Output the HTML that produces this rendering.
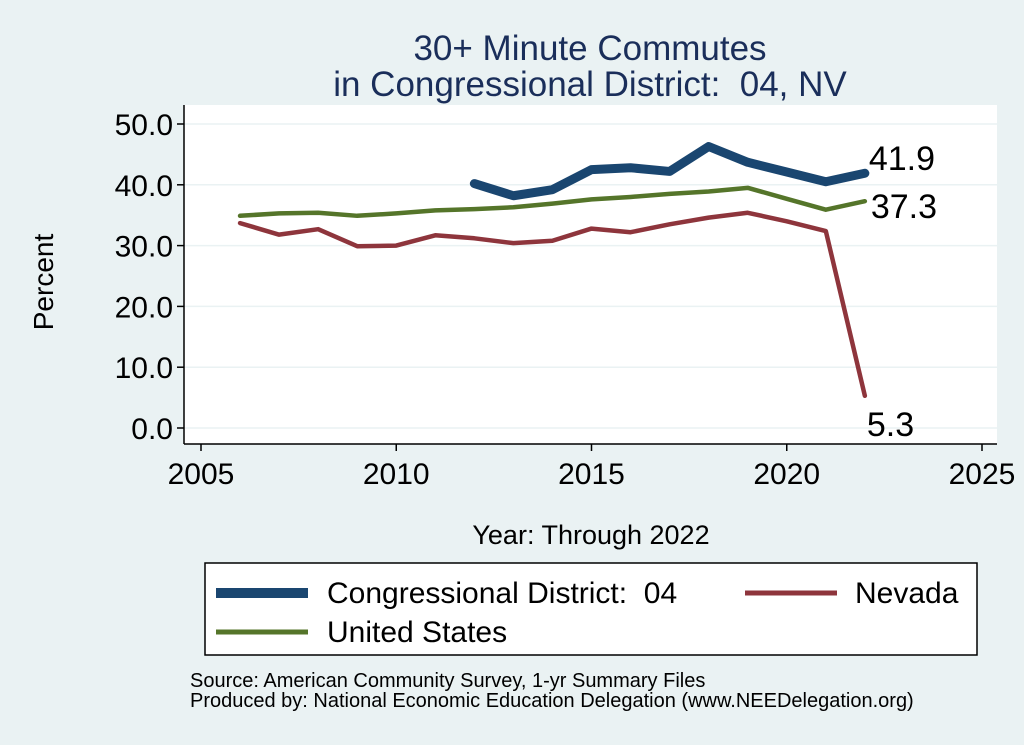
<!DOCTYPE html>
<html><head><meta charset="utf-8"><style>
body{margin:0;background:#eaf2f3;}
svg{display:block;font-family:"Liberation Sans",Arial,sans-serif;}
text{white-space:pre;}
</style></head><body>
<svg width="1024" height="745" viewBox="0 0 1024 745">
<rect x="0" y="0" width="1024" height="745" fill="#eaf2f3"/>
<text x="590" y="60" font-size="35" fill="#1a2e5a" text-anchor="middle">30+ Minute Commutes</text>
<text x="590" y="96" font-size="35" fill="#1a2e5a" text-anchor="middle">in Congressional District:  04, NV</text>
<rect x="184" y="105" width="813" height="339" fill="#fff"/>
<g id="grid"></g>
<g id="axes"></g>
<g id="series"></g>
<text transform="translate(53,282) rotate(-90)" font-size="28" text-anchor="middle">Percent</text>
<text x="591" y="544" font-size="27" text-anchor="middle">Year: Through 2022</text>
<g>
<rect x="205" y="563" width="772" height="92" fill="#fff" stroke="#000" stroke-width="1.5"/>
<line x1="216" y1="593" x2="308" y2="593" stroke="#1a4670" stroke-width="10"/>
<text x="327" y="603" font-size="30">Congressional District:  04</text>
<line x1="745" y1="593" x2="837" y2="593" stroke="#8e353c" stroke-width="5"/>
<text x="855" y="603" font-size="30">Nevada</text>
<line x1="216" y1="632" x2="308" y2="632" stroke="#55752a" stroke-width="5"/>
<text x="327" y="642" font-size="30">United States</text>
</g>
<text x="190" y="687" font-size="20">Source: American Community Survey, 1-yr Summary Files</text>
<text x="190" y="707" font-size="20">Produced by: National Economic Education Delegation (www.NEEDelegation.org)</text>
</svg>
<script>
const yTicks=[0,10,20,30,40,50];
const yTickLabels=["0.0","10.0","20.0","30.0","40.0","50.0"];
const xTicks=[2005,2010,2015,2020,2025];
const cdYears=[2012,2013,2014,2015,2016,2017,2018,2019,2020,2021,2022];
const cdValues=[40.2,38.2,39.2,42.5,42.8,42.2,46.3,43.7,42.1,40.5,41.9];
const years=[2006,2007,2008,2009,2010,2011,2012,2013,2014,2015,2016,2017,2018,2019,2020,2021,2022];
const usValues=[34.9,35.3,35.4,34.9,35.3,35.8,36.0,36.3,36.9,37.6,38.0,38.5,38.9,39.5,37.7,35.9,37.3];
const nvValues=[33.7,31.8,32.7,29.9,30.0,31.7,31.2,30.4,30.8,32.8,32.2,33.5,34.6,35.4,34.0,32.4,5.3];
const NS="http://www.w3.org/2000/svg";
const xs=v=>201+(v-2005)*39.05;
const ys=v=>428-v*6.08;
function mk(t,a,p){const e=document.createElementNS(NS,t);for(const k in a)e.setAttribute(k,a[k]);p.appendChild(e);return e;}
const grid=document.getElementById('grid'),axes=document.getElementById('axes'),ser=document.getElementById('series');
yTicks.forEach((v,i)=>{
 const g=mk('line',{x1:184,x2:997,y1:ys(v),y2:ys(v),stroke:'#eaf2f3','stroke-width':1.5},grid);
 
 
 const t=mk('line',{x1:177,x2:184,y1:ys(v),y2:ys(v),stroke:'#000','stroke-width':1.5},axes);
 
 
 const l=mk('text',{x:173,y:ys(v)+11,'font-size':30,'text-anchor':'end'},axes);
 l.textContent=yTickLabels[i];
 
 
});
xTicks.forEach(v=>{
 const t=mk('line',{x1:xs(v),x2:xs(v),y1:444,y2:451,stroke:'#000','stroke-width':1.5},axes);
 
 
 const l=mk('text',{x:xs(v),y:484,'font-size':30,'text-anchor':'middle'},axes);
 l.textContent=v;
 
 
});
const ya=mk('line',{x1:184,x2:184,y1:105,y2:444,stroke:'#000','stroke-width':1.5},axes);


const xa=mk('line',{x1:184,x2:997,y1:444,y2:444,stroke:'#000','stroke-width':1.5},axes);


function line(xv,yv,color,w,name){
 const p=mk('polyline',{points:xv.map((x,i)=>xs(x)+','+ys(yv[i])).join(' '),fill:'none',stroke:color,'stroke-width':w,'stroke-linejoin':'round','stroke-linecap':'round'},ser);
 
 
}
line(years,usValues,'#55752a',4.5,'line-united-states');
line(years,nvValues,'#8e353c',4.5,'line-nevada');
line(cdYears,cdValues,'#1a4670',9,'line-cd04');
function lab(x,y,txt,name){
 const t=mk('text',{x:x,y:y,'font-size':34},ser);
 t.textContent=txt;
 
 
}
const lx=xs(2022);
lab(lx+4,ys(cdValues[cdValues.length-1])-3,cdValues[cdValues.length-1].toFixed(1),'label-cd04-last');
lab(lx+6,ys(usValues[usValues.length-1])+17,usValues[usValues.length-1].toFixed(1),'label-us-last');
lab(lx+2,ys(nvValues[nvValues.length-1])+40,nvValues[nvValues.length-1].toFixed(1),'label-nevada-last');
</script>
</body></html>
